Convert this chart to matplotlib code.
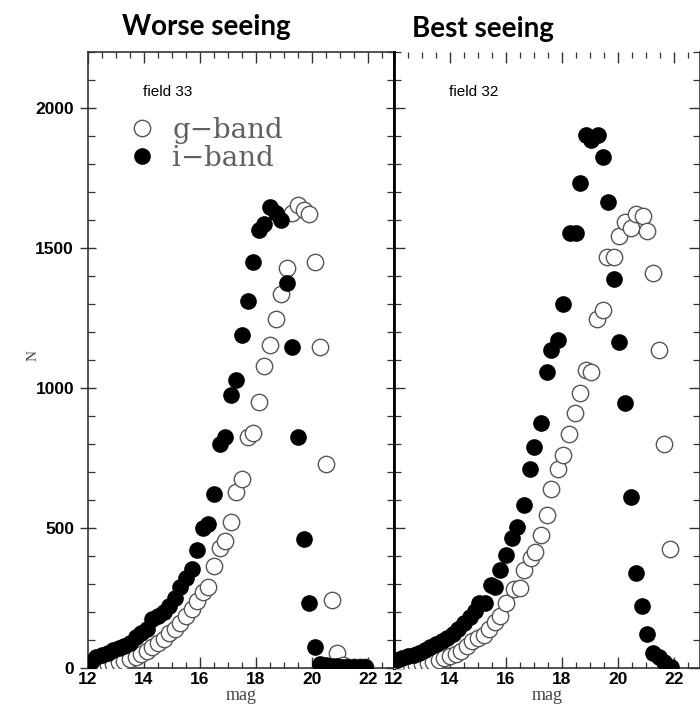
import matplotlib
matplotlib.use('Agg')
import matplotlib.pyplot as plt
from matplotlib.ticker import MultipleLocator, NullFormatter
from matplotlib.lines import Line2D

# ---------------- data ----------------
# field 33 (worse seeing)
mag_33 = [12.1, 12.3, 12.5, 12.7, 12.9, 13.1, 13.3, 13.5, 13.7, 13.9,
          14.1, 14.3, 14.5, 14.7, 14.9, 15.1, 15.3, 15.5, 15.7, 15.9,
          16.1, 16.3, 16.5, 16.7, 16.9, 17.1, 17.3, 17.5, 17.7, 17.9,
          18.1, 18.3, 18.5, 18.7, 18.9, 19.1, 19.3, 19.5, 19.7, 19.9,
          20.1, 20.3, 20.5, 20.7, 20.9, 21.1, 21.3, 21.5, 21.7, 21.9]
g_33 = [3, 5, 8, 11, 15, 20, 25, 32, 40, 50,
        60, 75, 90, 105, 125, 140, 160, 185, 210, 240,
        270, 290, 365, 430, 455, 520, 630, 675, 825, 840,
        950, 1080, 1155, 1245, 1335, 1430, 1625, 1655, 1635, 1620,
        1450, 1145, 730, 243, 54, 12, 5, 3, 2, 2]
i_33 = [20, 40, 45, 55, 65, 70, 80, 90, 110, 125,
        140, 175, 185, 200, 220, 250, 290, 320, 355, 420,
        500, 515, 620, 800, 825, 975, 1030, 1190, 1310, 1450,
        1565, 1585, 1645, 1625, 1600, 1375, 1145, 825, 462, 232,
        75, 15, 10, 8, 6, 5, 5, 4, 4, 3]

# field 32 (best seeing)
mag_g32 = [12.2, 12.4, 12.6, 12.8, 13.0, 13.2, 13.4, 13.6, 13.8, 14.0,
           14.2, 14.4, 14.6, 14.8, 15.0, 15.2, 15.4, 15.6, 15.8, 16.0,
           16.3, 16.5, 16.65, 16.9, 17.05, 17.25, 17.45, 17.6, 17.85, 18.05,
           18.25, 18.45, 18.65, 18.85, 19.05, 19.25, 19.45, 19.6, 19.85, 20.05,
           20.25, 20.45, 20.65, 20.9, 21.05, 21.25, 21.45, 21.65, 21.85]
g_32 = [6, 8, 10, 12, 15, 18, 21, 28, 35, 42,
        50, 62, 80, 95, 107, 118, 140, 165, 186, 232,
        282, 285, 350, 393, 414, 475, 546, 639, 710, 760,
        834, 909, 982, 1066, 1057, 1246, 1279, 1468, 1468, 1543,
        1593, 1571, 1621, 1614, 1561, 1411, 1134, 800, 425]
mag_i32 = [12.1, 12.3, 12.5, 12.7, 12.9, 13.1, 13.3, 13.5, 13.7, 13.9,
           14.1, 14.3, 14.5, 14.7, 14.9, 15.05, 15.25, 15.45, 15.6, 15.8,
           16.0, 16.2, 16.4, 16.65, 16.85, 17.0, 17.25, 17.45, 17.6, 17.85,
           18.05, 18.3, 18.5, 18.65, 18.85, 19.05, 19.3, 19.45, 19.65, 19.85,
           20.05, 20.25, 20.45, 20.65, 20.85, 21.05, 21.25, 21.45, 21.65, 21.9]
i_32 = [28, 35, 42, 48, 55, 64, 75, 86, 97, 108,
        122, 140, 160, 182, 205, 232, 232, 296, 290, 350,
        404, 464, 504, 582, 710, 789, 875, 1057, 1136, 1171,
        1300, 1554, 1554, 1732, 1904, 1886, 1904, 1825, 1664, 1389,
        1164, 946, 611, 339, 221, 121, 54, 39, 21, 4]

titles = ["Worse seeing", "Best seeing"]
fields = ["field 33", "field 32"]
legend_labels = ["g\u2212band", "i\u2212band"]
y_ticks = [0, 500, 1000, 1500, 2000]
x_ticks = [12, 14, 16, 18, 20, 22]

# ---------------- figure ----------------
W, H = 700, 713
fig = plt.figure(figsize=(W / 100, H / 100), dpi=100)

def px_ax(x0, x1, y0, y1):
    return [x0 / W, 1 - y1 / H, (x1 - x0) / W, (y1 - y0) / H]

axL = fig.add_axes(px_ax(88, 394, 52, 668))
axR = fig.add_axes(px_ax(394, 700, 52, 668))

tick_font = dict(family='Liberation Sans', size=12.5, weight='bold')
open_kw = dict(ls='none', marker='o', ms=11.8, mfc='white', mec='#555555', mew=1.0)
fill_kw = dict(ls='none', marker='o', ms=12.0, mfc='black', mec='black', mew=0)

for ax, mg, gv, mi, iv, fld in [(axL, mag_33, g_33, mag_33, i_33, fields[0]),
                                (axR, mag_g32, g_32, mag_i32, i_32, fields[1])]:
    ax.plot(mg, gv, **open_kw, zorder=3)
    ax.plot(mi, iv, **fill_kw, zorder=4)
    ax.set_xlim(12, 22.93)
    ax.set_ylim(0, 2200)
    ax.xaxis.set_major_locator(MultipleLocator(2))
    ax.xaxis.set_minor_locator(MultipleLocator(0.5))
    ax.yaxis.set_major_locator(MultipleLocator(500))
    ax.yaxis.set_minor_locator(MultipleLocator(100))
    ax.set_xticks(x_ticks)
    ax.tick_params(axis='both', which='both', direction='in', top=True, right=True,
                   color='#333333')
    ax.tick_params(axis='x', which='major', length=8, width=1.0, pad=3)
    ax.tick_params(axis='x', which='minor', length=4.5, width=0.9)
    ax.tick_params(axis='y', which='major', length=12, width=1.0, direction='inout')
    ax.tick_params(axis='y', which='minor', length=5, width=0.9)
    for lab in ax.get_xticklabels():
        lab.set_fontfamily(tick_font['family'])
        lab.set_fontsize(tick_font['size'])
        lab.set_fontweight(tick_font['weight'])
    for sp in ax.spines.values():
        sp.set_linewidth(1.2)
        sp.set_color('#333333')
    ax.text(0.18, 0.935, fld, transform=ax.transAxes, fontsize=11,
            family='Liberation Sans', ha='left', va='center')
    ax.set_xlabel('mag', family='Liberation Serif', fontsize=13, color='#444444',
                  labelpad=0)

axL.set_yticks(y_ticks)
axL.set_yticklabels([str(v) for v in y_ticks], **tick_font)
axL.tick_params(axis='y', which='major', pad=4)
axL.spines['right'].set_linewidth(2.0)
axL.spines['right'].set_color('black')
axR.spines['left'].set_linewidth(2.0)
axR.spines['left'].set_color('black')
axR.spines['top'].set_visible(False)
axR.yaxis.set_major_formatter(NullFormatter())
axR.tick_params(axis='y', which='major', direction='in', length=8)

fig.text(33 / W, 1 - 355 / H, 'N', rotation=90, family='Liberation Serif',
         fontsize=11, color='#444444', ha='center', va='center')

# legend
handles = [Line2D([], [], **open_kw), Line2D([], [], **fill_kw)]
axL.legend(handles, legend_labels, loc='upper left', bbox_to_anchor=(0.13, 0.895),
           frameon=False, numpoints=1, handlelength=1.0, handletextpad=0.6,
           labelspacing=0.05, borderpad=0, borderaxespad=0,
           prop=dict(family='DejaVu Serif', size=20), labelcolor='#606060')

# titles
fig.text(206 / W, 1 - 27 / H, titles[0], family='Lato', weight='bold', fontsize=20,
         ha='center', va='center')
fig.text(483 / W, 1 - 29 / H, titles[1], family='Lato', weight='bold', fontsize=20,
         ha='center', va='center')

fig.savefig('out.png', dpi=100)
